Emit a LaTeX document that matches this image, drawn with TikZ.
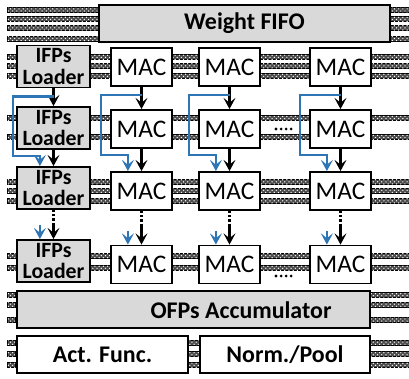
\documentclass[tikz,border=0pt]{standalone}
\usepackage{fontspec}
\setmainfont{Carlito}
\usetikzlibrary{arrows.meta,patterns}

\definecolor{flowblue}{RGB}{46,117,182}
\definecolor{boxgray}{RGB}{217,217,217}

\begin{document}
\begin{tikzpicture}[x=0.025cm, y=-0.025cm,
    box/.style={draw, line width=1.3pt, inner sep=0pt},
    loader/.style={box, fill=boxgray, minimum width=1.825cm, minimum height=1.05cm, align=center, font=\bfseries\fontsize{15.5}{15}\selectfont},
    mac/.style={box, fill=white, minimum width=1.525cm, minimum height=0.95cm, font=\fontsize{18}{20}\selectfont},
    bar/.style={box, minimum height=0.925cm, font=\bfseries\fontsize{17}{18}\selectfont},
    rail/.style={draw, line width=0.5pt, fill=black!70, postaction={pattern=crosshatch dots, pattern color=white}},
    wire/.style={line width=1.5pt, -{Stealth[length=2.8mm, width=3mm, inset=1.2mm]}},
    dotwire/.style={line width=1.5pt, dash pattern=on 1.6pt off 1.4pt},
    bluewire/.style={line width=1.6pt, flowblue, -{Stealth[length=2.8mm, width=3mm, inset=1.2mm]}},
    gap/.style={line width=2.2pt, line cap=round, dash pattern=on 0pt off 3.6pt}]
    \useasboundingbox (0,0) rectangle (409,378);

    % rails behind the blocks
    \foreach \y in {10,19,28,39}
        \foreach \a/\b in {7/99,390/409} {\draw[rail] (\a,\y-2.3) rectangle (\b,\y+2.3);}
    \foreach \y in {57,66,76,182,191,201,118,137,256,268}
        \foreach \a/\b in {7/17,90/111,172/200,259/311,370/409} {\draw[rail] (\a,\y-2.3) rectangle (\b,\y+2.3);}
    \foreach \y in {295,305,320}
        \foreach \a/\b in {7/15,370/409} {\draw[rail] (\a,\y-2.3) rectangle (\b,\y+2.3);}
    \foreach \y in {343,354,365}
        \foreach \a/\b in {7/15,188/200,370/409} {\draw[rail] (\a,\y-2.3) rectangle (\b,\y+2.3);}

    % blocks
    \node[bar, fill=boxgray, minimum width=7.275cm] (fifo) at (244.5,23.5) {Weight FIFO};
    \foreach \r/\y in {1/66.5,2/128,3/188,4/261}
        {\node[loader] (ld\r) at (53.5,\y) {IFPs\\Loader};}
    \foreach \r/\y in {1/67,2/129,3/191,4/264.5}
        \foreach \c/\x in {1/141.5,2/229.5,3/340.5}
            {\node[mac] (m\r\c) at (\x,\y) {MAC};}
    \node[bar, fill=boxgray, minimum width=8.825cm] (acc) at (193.5,309.5) {};
    \node[font=\bfseries\fontsize{17}{18}\selectfont] (acctext) at (241,310) {OFPs Accumulator};
    \node[bar, fill=white, minimum width=4.275cm] (act) at (102.5,354.5) {Act. Func.};
    \node[bar, fill=white, minimum width=4.25cm] (norm) at (285,354.5) {Norm./Pool};

    % skipped columns
    \draw[gap] (276,129) -- (296,129);
    \draw[gap] (276,276) -- (296,276);

    % data flow between rows
    \foreach \a/\b/\c/\d in {ld1/ld2/ld3/ld4, m11/m21/m31/m41, m12/m22/m32/m42, m13/m23/m33/m43} {
        \draw[wire] (\a.south) -- (\b.north);
        \draw[wire] (\b.south) -- (\c.north);
        \draw[dotwire] (\c.south) -- ++(0,15) coordinate (k\d);
        \draw[wire] (k\d) -- (\d.north);
        \draw[bluewire] ([yshift=-0.2cm]\a.south) -- ++(-40.5,0) |- ([xshift=-0.34cm, yshift=-0.15cm]\b.south) -- ([xshift=-0.34cm]\c.north);
        \draw[bluewire] ([xshift=-0.34cm, yshift=0.35cm]\d.north) -- ([xshift=-0.34cm]\d.north);
    }
\end{tikzpicture}
\end{document}
